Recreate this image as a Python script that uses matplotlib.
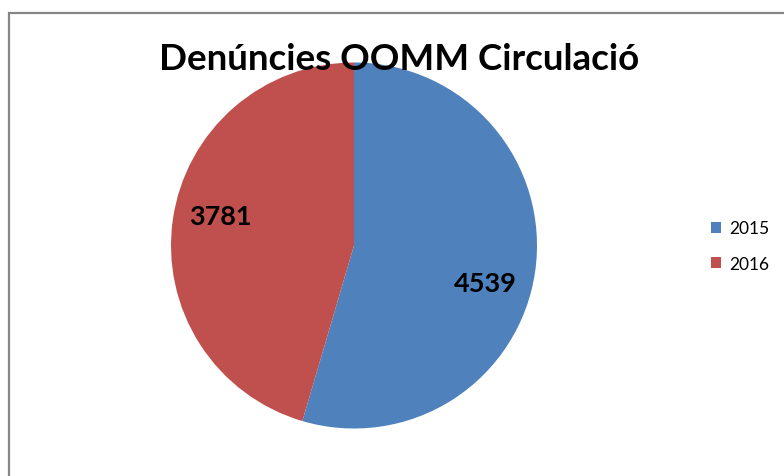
"""
Pie chart: Denúncies OOMM Circulació, 2015 vs 2016.
"""

import matplotlib.pyplot as plt
from matplotlib.patches import Rectangle

# data
years = ['2015', '2016']
denuncies = [4539, 3781]
colors = ['#4F81BD', '#C0504D']

W, H = 784, 477
plt.rcParams['font.family'] = ['Lato', 'DejaVu Sans']

fig = plt.figure(figsize=(W / 100, H / 100), dpi=100)
fig.patch.set_facecolor('white')

# outer chart border (only top and left visible)
fig.add_artist(Rectangle((8.5 / W, -0.2), 2.0, 1.2 - 13.5 / H,
                         transform=fig.transFigure, fill=False,
                         edgecolor='#868686', linewidth=1.6))

# pie axes: centre (354, 246.5) px, radius 183 px
cx, cy, r = 354, 246.5, 183
ax = fig.add_axes([(cx - r) / W, (H - cy - r) / H, 2 * r / W, 2 * r / H])
wedges, _ = ax.pie(denuncies, colors=colors, startangle=90, counterclock=False,
                   wedgeprops=dict(linewidth=0))
ax.set_xlim(-1, 1)
ax.set_ylim(-1, 1)
ax.set_aspect('equal')
ax.axis('off')

# value labels
label_pos = [(0.716, -0.205), (-0.732, 0.161)]
for val, (x, y) in zip(denuncies, label_pos):
    ax.text(x, y, str(val), ha='center', va='center', fontsize=19.5,
            fontweight='bold', color='black')

fig.text(399 / W, 1 - 59 / H, 'Denúncies OOMM Circulació', ha='center',
         va='center', fontsize=26.5, fontweight='bold', color='black')

fig.legend(wedges, years, loc='center left',
           bbox_to_anchor=(711 / W, 1 - 247 / H), frameon=False,
           fontsize=12.5, handlelength=0.6, handleheight=0.6,
           handletextpad=0.45, labelspacing=1.1, borderpad=0,
           borderaxespad=0)

fig.savefig('out.png', dpi=100, facecolor='white')
